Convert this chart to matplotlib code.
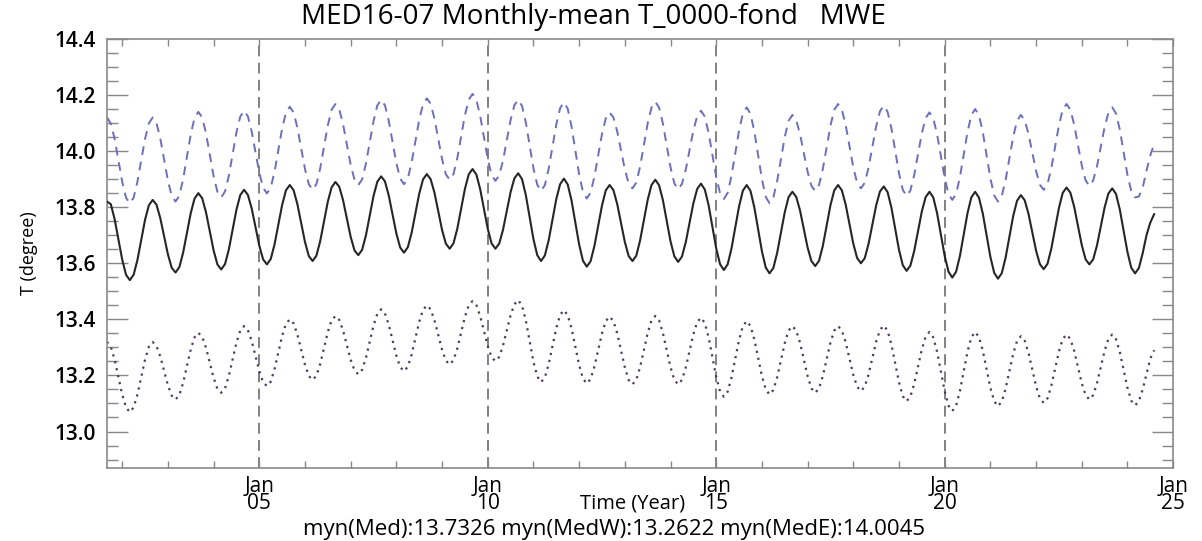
import numpy as np
import matplotlib.pyplot as plt
from matplotlib.ticker import MultipleLocator, FixedLocator

plt.rcParams['font.family'] = ['Open Sans', 'DejaVu Sans']

# monthly series, Sep 2001 .. Aug 2024
med = [
    13.820, 13.811, 13.758, 13.685,  # 2001 Sep-Dec
    13.613, 13.559, 13.540, 13.559, 13.612, 13.683, 13.755, 13.807, 13.826, 13.809, 13.761, 13.697,  # 2002
    13.632, 13.584, 13.567, 13.586, 13.638, 13.709, 13.779, 13.831, 13.850, 13.832, 13.782, 13.714,  # 2003
    13.646, 13.596, 13.578, 13.597, 13.649, 13.720, 13.791, 13.843, 13.862, 13.844, 13.796, 13.729,  # 2004
    13.663, 13.614, 13.596, 13.615, 13.667, 13.738, 13.808, 13.860, 13.879, 13.861, 13.811, 13.744,  # 2005
    13.676, 13.626, 13.608, 13.627, 13.679, 13.749, 13.820, 13.871, 13.890, 13.873, 13.825, 13.760,  # 2006
    13.694, 13.646, 13.629, 13.648, 13.699, 13.770, 13.840, 13.891, 13.910, 13.892, 13.842, 13.774,  # 2007
    13.706, 13.656, 13.638, 13.657, 13.708, 13.778, 13.848, 13.899, 13.918, 13.900, 13.852, 13.785,  # 2008
    13.719, 13.670, 13.652, 13.671, 13.723, 13.794, 13.865, 13.917, 13.936, 13.917, 13.865, 13.794,  # 2009
    13.723, 13.671, 13.652, 13.670, 13.719, 13.787, 13.854, 13.903, 13.921, 13.900, 13.843, 13.765,  # 2010
    13.686, 13.629, 13.608, 13.628, 13.682, 13.755, 13.829, 13.882, 13.902, 13.881, 13.824, 13.745,  # 2011
    13.667, 13.609, 13.588, 13.607, 13.661, 13.734, 13.806, 13.860, 13.879, 13.861, 13.811, 13.744,  # 2012
    13.676, 13.626, 13.608, 13.627, 13.681, 13.753, 13.826, 13.879, 13.898, 13.878, 13.825, 13.752,  # 2013
    13.678, 13.625, 13.605, 13.624, 13.675, 13.745, 13.814, 13.865, 13.884, 13.863, 13.807, 13.730,  # 2014
    13.653, 13.597, 13.576, 13.596, 13.652, 13.728, 13.803, 13.859, 13.879, 13.858, 13.800, 13.722,  # 2015
    13.643, 13.585, 13.564, 13.583, 13.637, 13.710, 13.782, 13.836, 13.855, 13.837, 13.789, 13.723,  # 2016
    13.656, 13.608, 13.590, 13.609, 13.662, 13.735, 13.807, 13.860, 13.879, 13.860, 13.809, 13.740,  # 2017
    13.670, 13.619, 13.600, 13.618, 13.669, 13.737, 13.806, 13.856, 13.874, 13.854, 13.799, 13.724,  # 2018
    13.648, 13.593, 13.573, 13.592, 13.644, 13.714, 13.785, 13.836, 13.855, 13.835, 13.779, 13.702,  # 2019
    13.626, 13.570, 13.549, 13.570, 13.626, 13.702, 13.779, 13.835, 13.855, 13.834, 13.778, 13.700,  # 2020
    13.623, 13.566, 13.545, 13.565, 13.620, 13.694, 13.769, 13.823, 13.843, 13.825, 13.777, 13.711,  # 2021
    13.645, 13.597, 13.579, 13.598, 13.652, 13.725, 13.797, 13.851, 13.870, 13.852, 13.802, 13.733,  # 2022
    13.665, 13.614, 13.596, 13.614, 13.664, 13.732, 13.799, 13.849, 13.867, 13.847, 13.791, 13.716,  # 2023
    13.640, 13.584, 13.564, 13.583, 13.636, 13.700, 13.745, 13.775,  # 2024 Jan-Aug
]

med_w = [
    13.320, 13.303, 13.257, 13.195,  # 2001
    13.132, 13.086, 13.069, 13.086, 13.132, 13.194, 13.257, 13.302, 13.319, 13.305, 13.268, 13.217,  # 2002
    13.165, 13.128, 13.114, 13.130, 13.174, 13.233, 13.293, 13.336, 13.352, 13.338, 13.299, 13.245,  # 2003
    13.192, 13.152, 13.138, 13.154, 13.198, 13.257, 13.317, 13.360, 13.376, 13.362, 13.323, 13.269,  # 2004
    13.216, 13.176, 13.162, 13.178, 13.222, 13.281, 13.341, 13.384, 13.400, 13.386, 13.346, 13.292,  # 2005
    13.238, 13.198, 13.184, 13.199, 13.241, 13.298, 13.355, 13.397, 13.412, 13.398, 13.360, 13.308,  # 2006
    13.256, 13.218, 13.204, 13.220, 13.262, 13.320, 13.378, 13.420, 13.436, 13.421, 13.381, 13.326,  # 2007
    13.270, 13.230, 13.215, 13.231, 13.274, 13.333, 13.391, 13.434, 13.450, 13.436, 13.397, 13.345,  # 2008
    13.292, 13.253, 13.239, 13.254, 13.296, 13.352, 13.409, 13.450, 13.465, 13.451, 13.412, 13.358,  # 2009
    13.305, 13.265, 13.251, 13.266, 13.306, 13.360, 13.415, 13.454, 13.469, 13.449, 13.396, 13.323,  # 2010
    13.249, 13.196, 13.176, 13.193, 13.240, 13.305, 13.369, 13.416, 13.433, 13.415, 13.368, 13.302,  # 2011
    13.237, 13.189, 13.171, 13.187, 13.231, 13.291, 13.350, 13.394, 13.410, 13.394, 13.350, 13.289,  # 2012
    13.229, 13.184, 13.168, 13.184, 13.229, 13.290, 13.351, 13.396, 13.412, 13.396, 13.351, 13.290,  # 2013
    13.229, 13.184, 13.168, 13.184, 13.228, 13.287, 13.347, 13.390, 13.406, 13.387, 13.336, 13.265,  # 2014
    13.195, 13.143, 13.124, 13.142, 13.192, 13.259, 13.327, 13.376, 13.394, 13.376, 13.329, 13.263,  # 2015
    13.198, 13.150, 13.132, 13.148, 13.193, 13.254, 13.315, 13.360, 13.376, 13.360, 13.317, 13.257,  # 2016
    13.198, 13.154, 13.138, 13.154, 13.198, 13.257, 13.317, 13.360, 13.376, 13.360, 13.318, 13.260,  # 2017
    13.202, 13.160, 13.144, 13.160, 13.203, 13.261, 13.320, 13.362, 13.378, 13.360, 13.311, 13.243,  # 2018
    13.176, 13.126, 13.108, 13.125, 13.170, 13.232, 13.293, 13.338, 13.355, 13.336, 13.285, 13.214,  # 2019
    13.144, 13.092, 13.073, 13.092, 13.144, 13.214, 13.285, 13.336, 13.355, 13.337, 13.289, 13.223,  # 2020
    13.156, 13.108, 13.090, 13.107, 13.153, 13.215, 13.278, 13.323, 13.340, 13.324, 13.281, 13.221,  # 2021
    13.162, 13.118, 13.102, 13.118, 13.163, 13.224, 13.285, 13.330, 13.346, 13.330, 13.288, 13.230,  # 2022
    13.172, 13.130, 13.114, 13.130, 13.172, 13.230, 13.288, 13.330, 13.346, 13.329, 13.283, 13.220,  # 2023
    13.156, 13.110, 13.093, 13.108, 13.150, 13.205, 13.260, 13.290,  # 2024
]

med_e = [
    14.120, 14.099, 14.044, 13.967,  # 2001
    13.891, 13.834, 13.814, 13.834, 13.891, 13.967, 14.044, 14.099, 14.120, 14.100, 14.045, 13.970,  # 2002
    13.895, 13.840, 13.820, 13.841, 13.900, 13.980, 14.060, 14.119, 14.140, 14.120, 14.064, 13.988,  # 2003
    13.911, 13.855, 13.835, 13.856, 13.912, 13.990, 14.067, 14.123, 14.144, 14.124, 14.070, 13.997,  # 2004
    13.923, 13.869, 13.849, 13.870, 13.926, 14.004, 14.081, 14.137, 14.158, 14.138, 14.084, 14.010,  # 2005
    13.936, 13.882, 13.862, 13.882, 13.939, 14.015, 14.092, 14.148, 14.168, 14.149, 14.096, 14.024,  # 2006
    13.951, 13.898, 13.879, 13.899, 13.955, 14.031, 14.107, 14.163, 14.183, 14.163, 14.108, 14.033,  # 2007
    13.957, 13.902, 13.882, 13.902, 13.959, 14.035, 14.112, 14.167, 14.188, 14.169, 14.116, 14.043,  # 2008
    13.971, 13.917, 13.898, 13.918, 13.975, 14.051, 14.128, 14.183, 14.204, 14.183, 14.127, 14.049,  # 2009
    13.972, 13.915, 13.894, 13.913, 13.966, 14.039, 14.111, 14.164, 14.183, 14.161, 14.102, 14.021,  # 2010
    13.939, 13.880, 13.858, 13.879, 13.937, 14.016, 14.095, 14.153, 14.174, 14.151, 14.088, 14.003,  # 2011
    13.917, 13.854, 13.831, 13.852, 13.908, 13.985, 14.061, 14.117, 14.138, 14.120, 14.070, 14.003,  # 2012
    13.935, 13.885, 13.867, 13.888, 13.944, 14.022, 14.099, 14.155, 14.176, 14.155, 14.098, 14.020,  # 2013
    13.942, 13.885, 13.864, 13.883, 13.934, 14.004, 14.074, 14.125, 14.144, 14.123, 14.065, 13.987,  # 2014
    13.908, 13.850, 13.829, 13.851, 13.911, 13.993, 14.074, 14.134, 14.156, 14.133, 14.071, 13.985,  # 2015
    13.900, 13.837, 13.814, 13.835, 13.893, 13.972, 14.050, 14.108, 14.129, 14.111, 14.061, 13.994,  # 2016
    13.926, 13.876, 13.858, 13.879, 13.936, 14.013, 14.091, 14.147, 14.168, 14.148, 14.093, 14.018,  # 2017
    13.942, 13.887, 13.867, 13.887, 13.941, 14.015, 14.088, 14.142, 14.162, 14.140, 14.082, 14.001,  # 2018
    13.921, 13.862, 13.840, 13.860, 13.915, 13.989, 14.064, 14.118, 14.138, 14.117, 14.060, 13.982,  # 2019
    13.904, 13.847, 13.826, 13.848, 13.907, 13.988, 14.069, 14.128, 14.150, 14.128, 14.068, 13.985,  # 2020
    13.903, 13.842, 13.820, 13.841, 13.897, 13.975, 14.052, 14.108, 14.129, 14.111, 14.062, 13.996,  # 2021
    13.929, 13.880, 13.862, 13.882, 13.939, 14.015, 14.092, 14.148, 14.168, 14.148, 14.095, 14.022,  # 2022
    13.949, 13.896, 13.876, 13.895, 13.946, 14.016, 14.086, 14.137, 14.156, 14.134, 14.076, 13.996,  # 2023
    13.915, 13.857, 13.835, 13.838, 13.870, 13.930, 13.985, 14.025,  # 2024
]

start_year = 2001 + 8 / 12.0  # Sep 2001
major_years = [2005, 2010, 2015, 2020, 2025]
major_labels = ['Jan\n05', 'Jan\n10', 'Jan\n15', 'Jan\n20', 'Jan\n25']
means_text = 'myn(Med):13.7326 myn(MedW):13.2622 myn(MedE):14.0045'

t = start_year + np.arange(len(med)) / 12.0

fig = plt.figure(figsize=(12.02, 5.41), dpi=100)
ax = fig.add_axes([0.089, 0.135, 0.887, 0.793])

for yr in major_years[:-1]:
    ax.axvline(yr, color='#777777', lw=1.3, ls=(0, (6, 3.5)), zorder=1)

ax.plot(t, med_e, color='#6e6ebd', lw=1.4, ls=(0, (4.5, 3.5)), zorder=2)
ax.plot(t, med, color='#262626', lw=1.5, zorder=3)
ax.plot(t, med_w, color='#4d3a5e', lw=1.6, ls=(0, (1, 2.2)), zorder=2)

ax.set_xlim(start_year, 2025.0)
ax.set_ylim(12.87, 14.4)

ax.yaxis.set_major_locator(MultipleLocator(0.2))
ax.yaxis.set_minor_locator(MultipleLocator(0.05))
ax.yaxis.set_major_formatter(plt.FormatStrFormatter('%.1f'))
ax.xaxis.set_major_locator(FixedLocator(major_years))
ax.xaxis.set_minor_locator(MultipleLocator(1))
ax.set_xticklabels(major_labels, fontsize=15, linespacing=0.72)

ax.tick_params(axis='y', which='major', direction='in', length=15, width=1,
               color='#888888', left=True, right=True, labelsize=15, pad=8)
ax.tick_params(axis='y', which='minor', direction='in', length=8, width=1,
               color='#888888', left=True, right=True)
ax.tick_params(axis='x', which='both', direction='in', length=5, width=1,
               color='#888888', top=True, bottom=True, pad=6)
for lab in ax.get_yticklabels():
    lab.set_fontweight('semibold')

for sp in ax.spines.values():
    sp.set_color('#8a8a8a')
    sp.set_linewidth(1.2)

ax.set_ylabel('T (degree)', fontsize=13, labelpad=12)

fig.text(593 / 1202, 1 - 17 / 541, 'MED16-07 Monthly-mean T_0000-fond   MWE',
         ha='center', va='center', fontsize=20)
fig.text(633 / 1202, 1 - 504 / 541, 'Time (Year)', ha='center', va='center', fontsize=14.5)
fig.text(614 / 1202, 1 - 529 / 541, means_text, ha='center', va='center', fontsize=16)

fig.savefig('out.png', dpi=100)
